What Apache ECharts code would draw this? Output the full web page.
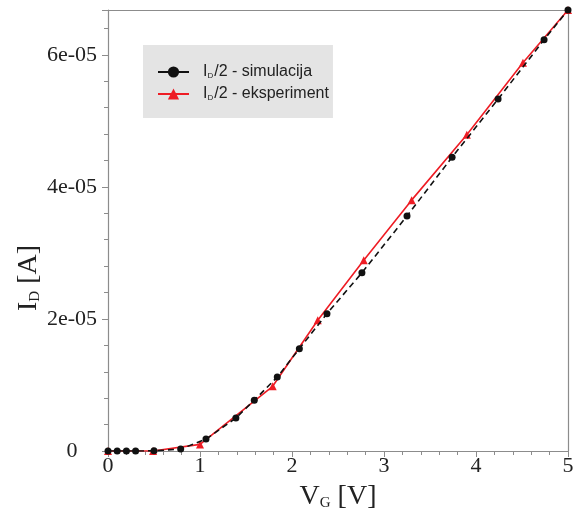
<!DOCTYPE html>
<html>
<head>
<meta charset="utf-8">
<script src="https://cdn.jsdelivr.net/npm/echarts@6/dist/echarts.min.js"></script>
<style>
    html, body { margin: 0; padding: 0; background: #fff; }
    #chart { width: 587px; height: 517px; }
</style>
</head>
<body>
<div id="chart"></div>
<script>
'use strict';
// V_G [V] / I_D [A]
var simX = [0, 0.1, 0.2, 0.3, 0.5, 0.79, 1.065, 1.39, 1.59, 1.84, 2.08, 2.38, 2.76, 3.25, 3.74, 4.24, 4.74, 5.0];
var simY = [0, 0, 0, 0, 0.002e-5, 0.03e-5, 0.18e-5, 0.50e-5, 0.77e-5, 1.12e-5, 1.55e-5, 2.08e-5, 2.70e-5, 3.56e-5, 4.45e-5, 5.33e-5, 6.23e-5, 6.68e-5];
var expX = [0, 0.49, 1.0, 1.79, 2.28, 2.78, 3.30, 3.90, 4.51, 5.0];
var expY = [0, 0, 0.1e-5, 0.98e-5, 1.98e-5, 2.89e-5, 3.80e-5, 4.79e-5, 5.88e-5, 6.68e-5];
var xTicks = [0, 1, 2, 3, 4, 5];
var yTicks = [0, 2e-5, 4e-5, 6e-5];

var chart = echarts.init(document.getElementById('chart'));

function pairs(xs, ys) {
    var out = [];
    for (var i = 0; i < xs.length; i++) {
        out.push([xs[i], ys[i]]);
    }
    return out;
}

var serif = 'Liberation Serif';
var frame = '#8c8c8c';

function yLabel(v) {
    for (var i = 0; i < yTicks.length; i++) {
        if (Math.abs(v - yTicks[i]) < 1e-9) {
            return v === 0 ? '0' : Math.round(v * 1e5) + 'e-05';
        }
    }
    return '';
}

function xLabel(v) {
    return xTicks.indexOf(Math.round(v * 1000) / 1000) >= 0 ? String(v) : '';
}

var option = {
    animation: false,
    backgroundColor: '#fff',
    grid: { left: 108, right: 19, top: 10, bottom: 66 },
    legend: {
        orient: 'vertical',
        left: 143,
        top: 45,
        backgroundColor: '#e4e4e4',
        padding: [19, 4, 16, 14],
        itemWidth: 31,
        itemHeight: 14,
        itemGap: 6,
        data: [
            { name: 'sim', lineStyle: { type: 'solid' } },
            { name: 'exp' }
        ],
        formatter: function (name) {
            var txt = name === 'sim' ? '/2 - simulacija' : '/2 - eksperiment';
            return '{g|}{a|I}{s|D}{a|' + txt + '}';
        },
        textStyle: {
            fontFamily: 'Liberation Sans',
            fontSize: 16,
            color: '#222',
            rich: {
                g: { width: 9 },
                a: { fontSize: 16, fontFamily: 'Liberation Sans', color: '#222' },
                s: { fontSize: 8, fontFamily: 'Liberation Sans', color: '#222', verticalAlign: 'bottom', padding: [0, 1, 0, 0] }
            }
        }
    },
    xAxis: [
        {
            type: 'value', min: 0, max: 5, interval: 1,
            axisLine: { onZero: false, lineStyle: { color: frame, width: 1.2 } },
            axisTick: { length: 6, lineStyle: { color: frame } },
            minorTick: { show: true, splitNumber: 5, length: 4, lineStyle: { color: frame } },
            splitLine: { show: false },
            axisLabel: { margin: 4, fontFamily: serif, fontSize: 22, color: '#222', formatter: xLabel },
            name: '{v|V}{s|G}{v| [V]}',
            nameLocation: 'middle',
            nameGap: 32,
            nameTextStyle: {
                rich: {
                    v: { fontFamily: serif, fontSize: 28, color: '#222' },
                    s: { fontFamily: serif, fontSize: 15, color: '#222', verticalAlign: 'bottom' }
                }
            }
        },
        {
            type: 'value', min: 0, max: 5, position: 'top',
            axisLine: { show: true, onZero: false, lineStyle: { color: frame, width: 1.2 } },
            axisTick: { show: false },
            axisLabel: { show: false },
            splitLine: { show: false }
        }
    ],
    yAxis: [
        {
            type: 'value', min: 0, max: 6.68e-5, interval: 2e-5,
            axisLine: { show: true, onZero: false, lineStyle: { color: frame, width: 1.2 } },
            axisTick: { show: true, length: 6, lineStyle: { color: frame } },
            minorTick: { show: true, splitNumber: 5, length: 4, lineStyle: { color: frame } },
            splitLine: { show: false },
            axisLabel: { margin: 36, align: 'center', fontFamily: serif, fontSize: 22, color: '#222', formatter: yLabel }
        },
        {
            type: 'value', min: 0, max: 6.68e-5, position: 'right',
            axisLine: { show: true, onZero: false, lineStyle: { color: frame, width: 1.2 } },
            axisTick: { show: false },
            axisLabel: { show: false },
            splitLine: { show: false }
        }
    ],
    graphic: [
        {
            type: 'text',
            x: 29,
            y: 278,
            rotation: Math.PI / 2,
            style: {
                text: '{v|I}{s|D}{v| [A]}',
                align: 'center',
                verticalAlign: 'middle',
                rich: {
                    v: { fontFamily: serif, fontSize: 28, fill: '#222' },
                    s: { fontFamily: serif, fontSize: 15, fill: '#222', verticalAlign: 'bottom' }
                }
            }
        }
    ],
    series: [
        {
            name: 'exp',
            type: 'line',
            data: pairs(expX, expY),
            symbol: 'triangle',
            symbolSize: 8,
            z: 2,
            lineStyle: { color: '#ee1c24', width: 1.6 },
            itemStyle: { color: '#ee1c24' }
        },
        {
            name: 'sim',
            type: 'line',
            data: pairs(simX, simY),
            symbol: 'circle',
            symbolSize: 7,
            z: 3,
            lineStyle: { color: '#111', width: 1.6, type: [6, 4] },
            itemStyle: { color: '#111' }
        }
    ]
};

chart.setOption(option);
</script>
</body>
</html>
